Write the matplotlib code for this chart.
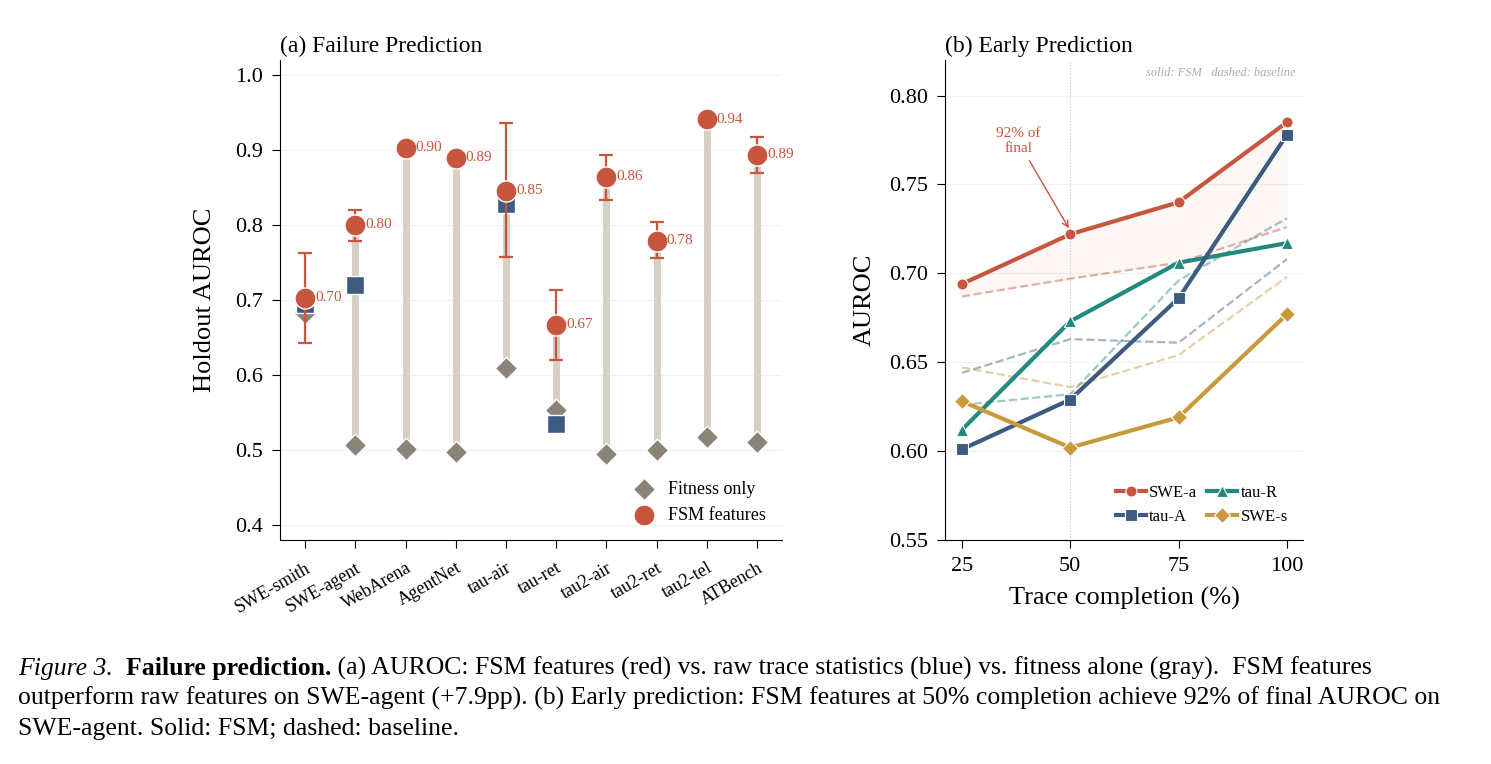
import numpy as np
import matplotlib
matplotlib.use("Agg")
import matplotlib.pyplot as plt

plt.rcParams["font.family"] = ["Liberation Serif", "DejaVu Serif"]

# (a) failure prediction
datasets = ["SWE-smith", "SWE-agent", "WebArena", "AgentNet", "tau-air",
            "tau-ret", "tau2-air", "tau2-ret", "tau2-tel", "ATBench"]
fitness = [0.683, 0.507, 0.502, 0.497, 0.609, 0.553, 0.495, 0.500, 0.518, 0.511]
fsm = [0.703, 0.800, 0.903, 0.890, 0.846, 0.667, 0.864, 0.779, 0.941, 0.894]
raw_idx = [0, 1, 4, 5]
raw_vals = [0.695, 0.720, 0.828, 0.535]
err_idx = [0, 1, 4, 5, 6, 7, 9]
err_lo = [0.643, 0.779, 0.757, 0.620, 0.833, 0.756, 0.870]
err_hi = [0.763, 0.820, 0.936, 0.714, 0.894, 0.804, 0.918]

# (b) early prediction
completion = [25, 50, 75, 100]
series = ["SWE-a", "tau-R", "tau-A", "SWE-s"]
fsm_curves = {
    "SWE-a": [0.694, 0.722, 0.740, 0.785],
    "tau-R": [0.612, 0.673, 0.706, 0.717],
    "tau-A": [0.601, 0.629, 0.686, 0.778],
    "SWE-s": [0.628, 0.602, 0.619, 0.677],
}
base_curves = {
    "SWE-a": [0.687, 0.697, 0.706, 0.726],
    "tau-R": [0.626, 0.632, 0.696, 0.731],
    "tau-A": [0.644, 0.663, 0.661, 0.708],
    "SWE-s": [0.647, 0.636, 0.654, 0.698],
}

RED = "#c8553d"
BLUE = "#3d5a80"
TEAL = "#21897e"
GOLD = "#c99a3a"
GRAY = "#8a8478"
colors = {"SWE-a": RED, "tau-R": TEAL, "tau-A": BLUE, "SWE-s": GOLD}
markers = {"SWE-a": "o", "tau-R": "^", "tau-A": "s", "SWE-s": "D"}

fig = plt.figure(figsize=(14.91, 7.64), dpi=100)
W, H = 1491, 764
ax1 = fig.add_axes([280 / W, 1 - 540 / H, 502 / W, 480 / H])
ax2 = fig.add_axes([945 / W, 1 - 540 / H, 358 / W, 480 / H])

x = np.arange(len(datasets))
for i in range(len(datasets)):
    if fsm[i] > fitness[i] + 0.03:
        ax1.plot([i, i], [fitness[i], fsm[i]], color="#d6cfc4", lw=5, zorder=1,
                 solid_capstyle="butt")
ax1.axhline(0.5, color="#bbbbbb", lw=0.8, ls=":", zorder=0)
ax1.scatter(x, fitness, marker="D", s=130, color=GRAY, edgecolor="white",
            linewidth=1, zorder=3, label="Fitness only")
ax1.scatter(raw_idx, raw_vals, marker="s", s=150, color=BLUE,
            edgecolor="white", linewidth=1, zorder=4)
for j, i in enumerate(err_idx):
    ax1.errorbar(i, fsm[i], yerr=[[fsm[i] - err_lo[j]], [err_hi[j] - fsm[i]]],
                 fmt="none", ecolor=RED, elinewidth=1.6, capsize=5, capthick=1.6,
                 zorder=4)
ax1.scatter(x, fsm, marker="o", s=230, color=RED, edgecolor="white",
            linewidth=1, zorder=5, label="FSM features")
for i, v in enumerate(fsm):
    ax1.text(i + 0.2, v, f"{v:.2f}", color=RED, fontsize=11, va="center",
             ha="left", zorder=6)
ax1.set_xlim(-0.5, 9.5)
ax1.set_ylim(0.38, 1.02)
ax1.set_yticks([0.4, 0.5, 0.6, 0.7, 0.8, 0.9, 1.0])
ax1.set_xticks(x)
ax1.set_xticklabels(datasets, rotation=30, ha="right", rotation_mode="anchor",
                    fontsize=13)
ax1.tick_params(axis="y", labelsize=16, length=6, pad=6)
ax1.tick_params(axis="x", length=6, pad=8)
ax1.set_ylabel("Holdout AUROC", fontsize=19, labelpad=14)
ax1.set_title("(a) Failure Prediction", fontsize=17, loc="left")
for y in [0.4, 0.5, 0.6, 0.7, 0.8, 0.9, 1.0]:
    ax1.axhline(y, color="#f0f0f0", lw=0.8, zorder=0)
for s in ["top", "right"]:
    ax1.spines[s].set_visible(False)
ax1.legend(loc="lower right", frameon=False, fontsize=13, handletextpad=0.3)

# (b)
ax2.fill_between(completion, base_curves["SWE-a"], fsm_curves["SWE-a"],
                 color=RED, alpha=0.05, lw=0)
for name in series:
    ax2.plot(completion, base_curves[name], ls="--", color=colors[name],
             alpha=0.45, lw=1.6, zorder=2)
for name in series:
    ax2.plot(completion, fsm_curves[name], color=colors[name], lw=3,
             marker=markers[name], markersize=8, markeredgecolor="white",
             markeredgewidth=0.8, zorder=3, label=name)
ax2.axvline(50, color="#cccccc", lw=0.8, ls=":", zorder=0)
for y in [0.55, 0.60, 0.65, 0.70, 0.75, 0.80]:
    ax2.axhline(y, color="#f0f0f0", lw=0.8, zorder=0)
ax2.annotate("92% of\nfinal", xy=(50, fsm_curves["SWE-a"][1] + 0.002),
             xytext=(38, 0.768), color=RED, fontsize=11, ha="center",
             arrowprops=dict(arrowstyle="->", color=RED, lw=1))
ax2.text(0.98, 0.985, "solid: FSM   dashed: baseline", transform=ax2.transAxes,
         ha="right", va="top", style="italic", color="#aaaaaa", fontsize=9)
ax2.set_xlim(21.1, 103.7)
ax2.set_ylim(0.55, 0.82)
ax2.set_xticks(completion)
ax2.set_yticks([0.55, 0.60, 0.65, 0.70, 0.75, 0.80])
ax2.tick_params(labelsize=16, length=6, pad=6)
ax2.set_xlabel("Trace completion (%)", fontsize=19, labelpad=8)
ax2.set_ylabel("AUROC", fontsize=19, labelpad=10)
ax2.set_title("(b) Early Prediction", fontsize=17, loc="left")
for s in ["top", "right"]:
    ax2.spines[s].set_visible(False)
h, l = ax2.get_legend_handles_labels()
order = [0, 2, 1, 3]
ax2.legend([h[k] for k in order], [l[k] for k in order], ncol=2, loc="lower right",
           frameon=False, fontsize=12, handlelength=1.8, handletextpad=0.2,
           columnspacing=0.6)

# caption
fig.canvas.draw()
r = fig.canvas.get_renderer()
fs = 18.5
y1 = 1 - 675 / H
xpos = 18 / W
for txt, kw in [("Figure 3.", dict(style="italic")), ("  Failure prediction.", dict(weight="bold")),
                (" (a) AUROC: FSM features (red) vs. raw trace statistics (blue) vs. fitness alone (gray).  FSM features", {})]:
    t = fig.text(xpos, y1, txt, fontsize=fs, va="baseline", **kw)
    xpos = fig.transFigure.inverted().transform((t.get_window_extent(r).x1, 0))[0]
fig.text(18 / W, 1 - 705 / H, "outperform raw features on SWE-agent (+7.9pp). (b) Early prediction: FSM features at 50% completion achieve 92% of final AUROC on",
         fontsize=fs, va="baseline")
fig.text(18 / W, 1 - 735 / H, "SWE-agent. Solid: FSM; dashed: baseline.", fontsize=fs, va="baseline")

fig.savefig("out.png", dpi=100)
